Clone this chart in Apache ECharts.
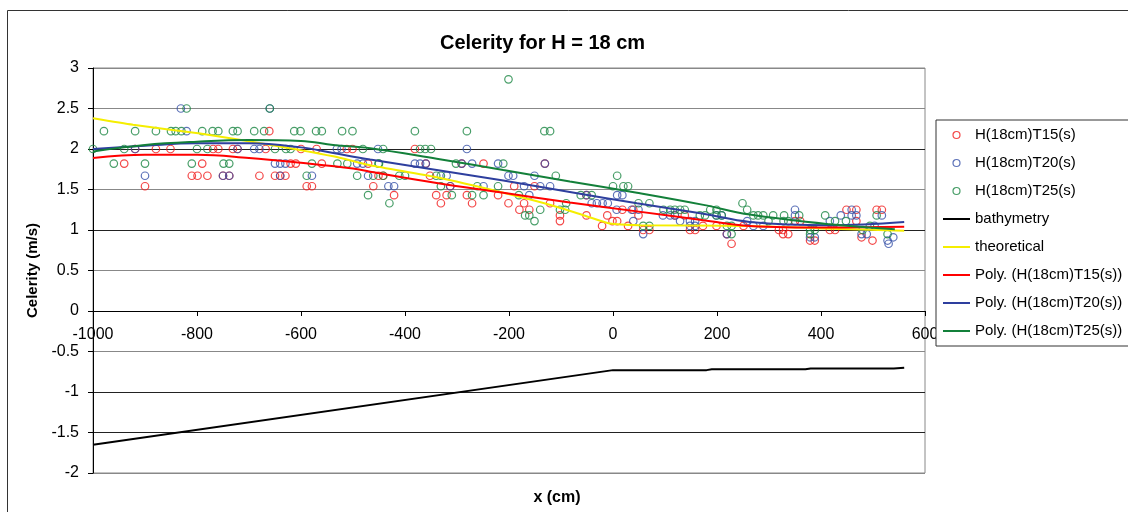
<!DOCTYPE html>
<html>
<head>
<meta charset="utf-8">
<title>Celerity for H = 18 cm</title>
<script src="https://cdn.jsdelivr.net/npm/echarts@6.0.0/dist/echarts.min.js"></script>
<style>
  html, body { margin: 0; padding: 0; background: #fff; }
  #chart { width: 1128px; height: 512px; }
</style>
</head>
<body>
<div id="chart"></div>
<script>
  // measured celerities [x (cm), c (m/s)]
  const t15Points = [
    [-661, 2.22],
    [-919, 2.0], [-879, 2.0], [-851, 2.0], [-769, 2.0], [-759, 2.0], [-731, 2.0], [-722, 2.0],
    [-668, 2.0], [-600, 2.0], [-570, 2.0], [-512, 2.0], [-501, 2.0], [-381, 2.0],
    [-940, 1.82], [-790, 1.82], [-620, 1.82], [-610, 1.82], [-560, 1.82], [-471, 1.82],
    [-360, 1.82], [-291, 1.82], [-249, 1.82], [-131, 1.82],
    [-810, 1.67], [-799, 1.67], [-780, 1.67], [-750, 1.67], [-738, 1.67], [-680, 1.67],
    [-650, 1.67], [-640, 1.67], [-630, 1.67], [-451, 1.67], [-442, 1.67], [-352, 1.67],
    [-900, 1.54], [-589, 1.54], [-579, 1.54], [-461, 1.54], [-313, 1.54], [-190, 1.54], [-151, 1.54],
    [-421, 1.43], [-340, 1.43], [-320, 1.43], [-281, 1.43], [-221, 1.43], [-51, 1.43],
    [-331, 1.33], [-271, 1.33], [-201, 1.33], [-171, 1.33], [-121, 1.33],
    [-180, 1.25], [-161, 1.25], [18, 1.25], [39, 1.25], [449, 1.25], [468, 1.25], [507, 1.25], [517, 1.25],
    [-102, 1.18], [-51, 1.18], [-11, 1.18], [49, 1.18], [119, 1.18], [138, 1.18],
    [-102, 1.11], [-1, 1.11], [8, 1.11], [350, 1.11], [360, 1.11], [468, 1.11],
    [-21, 1.05], [29, 1.05], [173, 1.05], [199, 1.05], [251, 1.05],
    [58, 1.0], [70, 1.0], [148, 1.0], [158, 1.0], [319, 1.0], [327, 1.0], [417, 1.0], [427, 1.0],
    [219, 0.95], [327, 0.95], [337, 0.95],
    [478, 0.91],
    [379, 0.87], [388, 0.87], [499, 0.87],
    [228, 0.83]
  ];

  const t20Points = [
    [-831, 2.5], [-660, 2.5],
    [-820, 2.22],
    [-919, 2.0], [-722, 2.0], [-690, 2.0], [-680, 2.0], [-531, 2.0], [-522, 2.0], [-452, 2.0], [-281, 2.0],
    [-650, 1.82], [-640, 1.82], [-630, 1.82], [-492, 1.82], [-481, 1.82], [-381, 1.82],
    [-371, 1.82], [-360, 1.82], [-291, 1.82], [-271, 1.82], [-221, 1.82], [-131, 1.82],
    [-900, 1.67], [-750, 1.67], [-738, 1.67], [-640, 1.67], [-579, 1.67], [-471, 1.67],
    [-320, 1.67], [-201, 1.67], [-192, 1.67], [-151, 1.67],
    [-432, 1.54], [-421, 1.54], [-313, 1.54], [-249, 1.54], [-171, 1.54], [-140, 1.54], [-121, 1.54],
    [-161, 1.43], [-51, 1.43], [8, 1.43], [18, 1.43],
    [-41, 1.33], [-31, 1.33], [-20, 1.33], [-10, 1.33],
    [7, 1.25], [36, 1.25], [49, 1.25], [350, 1.25], [459, 1.25],
    [96, 1.18], [110, 1.18], [119, 1.18], [199, 1.18], [209, 1.18], [350, 1.18],
    [438, 1.18], [459, 1.18], [468, 1.18], [517, 1.18],
    [39, 1.11], [129, 1.11], [148, 1.11], [158, 1.11], [258, 1.11], [417, 1.11],
    [148, 1.05], [158, 1.05], [270, 1.05], [289, 1.05], [503, 1.05],
    [58, 0.95], [219, 0.95], [478, 0.95], [488, 0.95],
    [379, 0.91], [388, 0.91], [539, 0.91],
    [528, 0.87],
    [530, 0.83]
  ];

  const t25Points = [
    [-201, 2.86],
    [-820, 2.5], [-660, 2.5],
    [-979, 2.22], [-919, 2.22], [-879, 2.22], [-850, 2.22], [-841, 2.22], [-830, 2.22], [-790, 2.22],
    [-770, 2.22], [-759, 2.22], [-731, 2.22], [-722, 2.22], [-690, 2.22], [-671, 2.22], [-613, 2.22],
    [-601, 2.22], [-571, 2.22], [-560, 2.22], [-521, 2.22], [-501, 2.22], [-381, 2.22], [-281, 2.22],
    [-132, 2.22], [-121, 2.22],
    [-1000, 2.0], [-940, 2.0], [-800, 2.0], [-780, 2.0], [-650, 2.0], [-629, 2.0], [-620, 2.0],
    [-481, 2.0], [-442, 2.0], [-371, 2.0], [-361, 2.0], [-350, 2.0],
    [-960, 1.82], [-900, 1.82], [-810, 1.82], [-749, 1.82], [-738, 1.82], [-579, 1.82],
    [-530, 1.82], [-511, 1.82], [-451, 1.82], [-450, 1.82], [-302, 1.82], [-211, 1.82],
    [-589, 1.67], [-492, 1.67], [-461, 1.67], [-442, 1.67], [-411, 1.67], [-400, 1.67],
    [-340, 1.67], [-331, 1.67], [-110, 1.67], [8, 1.67],
    [-331, 1.54], [-261, 1.54], [-221, 1.54], [0, 1.54], [20, 1.54], [29, 1.54],
    [-471, 1.43], [-310, 1.43], [-271, 1.43], [-249, 1.43], [-181, 1.43], [-62, 1.43], [-41, 1.43],
    [-430, 1.33], [-90, 1.33], [49, 1.33], [70, 1.33], [249, 1.33],
    [-140, 1.25], [-102, 1.25], [-92, 1.25], [97, 1.25], [110, 1.25], [119, 1.25],
    [129, 1.25], [138, 1.25], [187, 1.25], [199, 1.25], [258, 1.25],
    [-169, 1.18], [-161, 1.18], [167, 1.18], [177, 1.18], [199, 1.18], [209, 1.18], [270, 1.18],
    [279, 1.18], [289, 1.18], [308, 1.18], [329, 1.18], [358, 1.18], [408, 1.18], [507, 1.18],
    [-151, 1.11], [299, 1.11], [328, 1.11], [337, 1.11], [427, 1.11], [448, 1.11],
    [58, 1.05], [70, 1.05], [219, 1.05], [228, 1.05], [494, 1.05],
    [379, 1.0], [388, 1.0], [480, 1.0],
    [228, 0.95], [379, 0.95], [528, 0.95]
  ];

  const bathymetry = [
    [-1000, -1.65], [0, -0.73], [180, -0.73], [190, -0.72], [370, -0.72], [380, -0.71], [540, -0.71], [560, -0.70]
  ];

  const theoretical = [
    [-1000, 2.38], [-923, 2.30], [-794, 2.19], [-666, 2.06], [-538, 1.91], [-467, 1.80],
    [-339, 1.65], [-211, 1.46], [-115, 1.30], [-51, 1.17], [-6, 1.08], [50, 1.06],
    [263, 1.05], [400, 1.02], [560, 0.99]
  ];

  const polyT15 = [
    [-1000, 1.89], [-900, 1.93], [-800, 1.93], [-700, 1.89], [-600, 1.83], [-500, 1.76],
    [-467, 1.72], [-339, 1.58], [-211, 1.46], [-83, 1.34], [46, 1.23], [174, 1.12],
    [263, 1.05], [417, 1.03], [560, 1.04]
  ];

  const polyT20 = [
    [-1000, 2.0], [-900, 2.04], [-800, 2.07], [-700, 2.07], [-600, 2.02], [-538, 1.95],
    [-467, 1.87], [-339, 1.74], [-211, 1.61], [-83, 1.47], [46, 1.33], [174, 1.20],
    [263, 1.10], [417, 1.06], [560, 1.10]
  ];

  const polyT25 = [
    [-1000, 1.97], [-900, 2.05], [-800, 2.09], [-700, 2.11], [-600, 2.10], [-538, 2.05],
    [-467, 2.01], [-339, 1.88], [-211, 1.74], [-83, 1.60], [46, 1.46], [174, 1.31],
    [263, 1.19], [417, 1.07], [542, 1.01]
  ];

  const seriesNames = [
    'H(18cm)T15(s)', 'H(18cm)T20(s)', 'H(18cm)T25(s)', 'bathymetry', 'theoretical',
    'Poly. (H(18cm)T15(s))', 'Poly. (H(18cm)T20(s))', 'Poly. (H(18cm)T25(s))'
  ];

  const font = 'Liberation Sans, Arial, sans-serif';
  const red = '#f01a1a', blue = '#3650a8', green = '#1a8642';
  const redLine = '#ff0000', blueLine = '#2e3f9e', greenLine = '#13803a', yellow = '#f5ee00';
  const lineIcon = 'path://M0,0H27V2H0Z';

  const ring = (c) => ({ color: 'rgba(0,0,0,0)', borderColor: c, borderWidth: 1.2 });

  const chart = echarts.init(document.getElementById('chart'));

  chart.setOption({
    animation: false,
    backgroundColor: '#fff',
    title: {
      text: 'Celerity for H = 18 cm',
      left: 440,
      top: 33,
      padding: 0,
      textStyle: { fontFamily: font, fontSize: 20, fontWeight: 'bold', color: '#000' }
    },
    graphic: [{
      type: 'rect',
      shape: { x: 7.5, y: 10.5, width: 1140, height: 520 },
      style: { fill: 'none', stroke: '#333', lineWidth: 1 },
      silent: true
    }],
    legend: {
      orient: 'vertical',
      left: 936,
      top: 120,
      padding: [7, 20, 7, 7],
      itemWidth: 27,
      itemHeight: 7,
      itemGap: 12,
      borderColor: '#333',
      borderWidth: 1,
      backgroundColor: '#fff',
      selectedMode: false,
      textStyle: { fontFamily: font, fontSize: 15, lineHeight: 16, color: '#000' },
      data: [
        { name: seriesNames[0], itemStyle: ring(red) },
        { name: seriesNames[1], itemStyle: ring(blue) },
        { name: seriesNames[2], itemStyle: ring(green) },
        { name: seriesNames[3], icon: lineIcon, itemStyle: { color: '#000' } },
        { name: seriesNames[4], icon: lineIcon, itemStyle: { color: yellow } },
        { name: seriesNames[5], icon: lineIcon, itemStyle: { color: redLine } },
        { name: seriesNames[6], icon: lineIcon, itemStyle: { color: blueLine } },
        { name: seriesNames[7], icon: lineIcon, itemStyle: { color: greenLine } }
      ]
    },
    grid: {
      left: 93,
      right: 203,
      top: 68,
      bottom: 39,
      outerBoundsMode: 'none',
      show: true,
      borderColor: '#888',
      borderWidth: 1
    },
    xAxis: {
      type: 'value',
      min: -1000,
      max: 600,
      interval: 200,
      position: 'bottom',
      offset: -162,
      name: 'x (cm)',
      nameLocation: 'middle',
      nameGap: 179,
      nameTextStyle: { fontFamily: font, fontSize: 16, fontWeight: 'bold', color: '#000', padding: [0, 0, 0, 96] },
      axisLine: { onZero: false, lineStyle: { color: '#000', width: 1 } },
      axisTick: { show: true, length: 5, lineStyle: { color: '#000' } },
      axisLabel: { fontFamily: font, fontSize: 16, color: '#000', margin: 16, formatter: (v) => String(v) },
      splitLine: { show: false }
    },
    yAxis: {
      type: 'value',
      min: -2,
      max: 3,
      interval: 0.5,
      name: 'Celerity (m/s)',
      nameLocation: 'middle',
      nameRotate: 90,
      nameGap: 52,
      nameTextStyle: { fontFamily: font, fontSize: 15, fontWeight: 'bold', color: '#000' },
      axisLine: { show: true, onZero: false, lineStyle: { color: '#000', width: 1 } },
      axisTick: { show: true, length: 5, lineStyle: { color: '#000' } },
      axisLabel: { fontFamily: font, fontSize: 16, color: '#000', margin: 14 },
      splitLine: {
        show: true,
        lineStyle: {
          width: 1,
          color: ['#888', '#222', '#222', '#888', '#222', '#888', '#222', '#888', '#222', '#888', '#888']
        }
      }
    },
    series: [
      { name: seriesNames[0], type: 'scatter', data: t15Points, symbol: 'circle', symbolSize: 7.5, itemStyle: ring(red) },
      { name: seriesNames[1], type: 'scatter', data: t20Points, symbol: 'circle', symbolSize: 7.5, itemStyle: ring(blue) },
      { name: seriesNames[2], type: 'scatter', data: t25Points, symbol: 'circle', symbolSize: 7.5, itemStyle: ring(green) },
      { name: seriesNames[3], type: 'line', data: bathymetry, symbol: 'none',
        lineStyle: { color: '#000', width: 2 }, itemStyle: { color: '#000' } },
      { name: seriesNames[4], type: 'line', data: theoretical, symbol: 'none', smooth: 0.2,
        lineStyle: { color: yellow, width: 2 }, itemStyle: { color: yellow } },
      { name: seriesNames[5], type: 'line', data: polyT15, symbol: 'none', smooth: 0.4,
        lineStyle: { color: redLine, width: 2 }, itemStyle: { color: redLine } },
      { name: seriesNames[6], type: 'line', data: polyT20, symbol: 'none', smooth: 0.4,
        lineStyle: { color: blueLine, width: 2 }, itemStyle: { color: blueLine } },
      { name: seriesNames[7], type: 'line', data: polyT25, symbol: 'none', smooth: 0.4,
        lineStyle: { color: greenLine, width: 2 }, itemStyle: { color: greenLine } }
    ]
  });
</script>
</body>
</html>
